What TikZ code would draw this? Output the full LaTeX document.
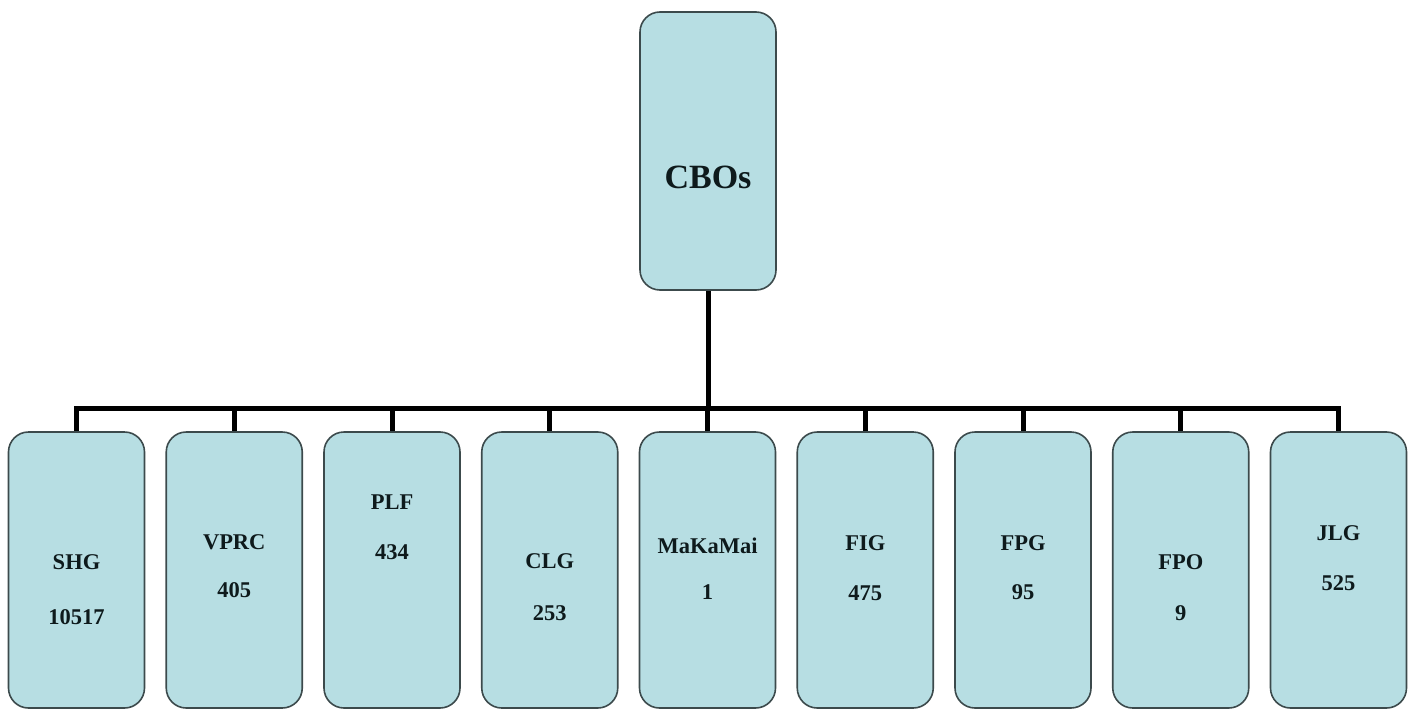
\documentclass[tikz,border=0pt]{standalone}
\usepackage{fontspec}
\setmainfont{Liberation Serif}
\definecolor{boxfill}{HTML}{B7DEE3}
\definecolor{boxline}{HTML}{3C4A4C}
\definecolor{txt}{HTML}{0E1A1C}
\begin{document}
\begin{tikzpicture}[x=1pt,y=-1pt,
  orgbox/.style={draw=boxline, fill=boxfill, line width=1.6pt, rounded corners=20pt,
    minimum width=136pt, inner sep=0pt},
  topbox/.style={orgbox, minimum height=278pt},
  subbox/.style={orgbox, minimum height=276pt},
  lbl/.style={inner sep=0pt, text=txt, font=\fontsize{22.5}{25}\selectfont\bfseries},
  toplbl/.style={inner sep=0pt, text=txt, font=\fontsize{34}{38}\selectfont\bfseries},
  conn/.style={line width=5pt, black}]
\useasboundingbox (0,0) rectangle (1411,709);
\fill[white] (0,0) rectangle (1411,709);
% top box
\node[topbox] (cbo) at (708,151) {};
\node[toplbl] (cbot) at (708,177) {CBOs};
\coordinate (bus) at (707.5,408);
% sub boxes
\foreach \i/\n/\a/\b/\ya/\yb in {
  0/shg/SHG/10517/562/617,
  1/vprc/VPRC/405/542/590,
  2/plf/PLF/434/502/552,
  3/clg/CLG/253/561/613,
  4/mkm/MaKaMai/1/546/592,
  5/fig/FIG/475/543/593,
  6/fpg/FPG/95/543/592,
  7/fpo/FPO/9/562/613,
  8/jlg/JLG/525/533/583}{
  \node[subbox] (\n) at ({76.5+157.75*\i},570) {};
  \node[lbl] (\n a) at ({76.5+157.75*\i},\ya) {\a};
  \node[lbl] (\n b) at ({76.5+157.75*\i},\yb) {\b};
}
% connectors
\draw[conn] (cbo.south) -- (cbo.south |- bus);
\draw[conn, line cap=rect] (shg.north |- bus) -- (jlg.north |- bus);
\foreach \n in {shg,vprc,plf,clg,mkm,fig,fpg,fpo,jlg}{
  \draw[conn] (\n.north |- bus) -- (\n.north);
}
\end{tikzpicture}
\end{document}
